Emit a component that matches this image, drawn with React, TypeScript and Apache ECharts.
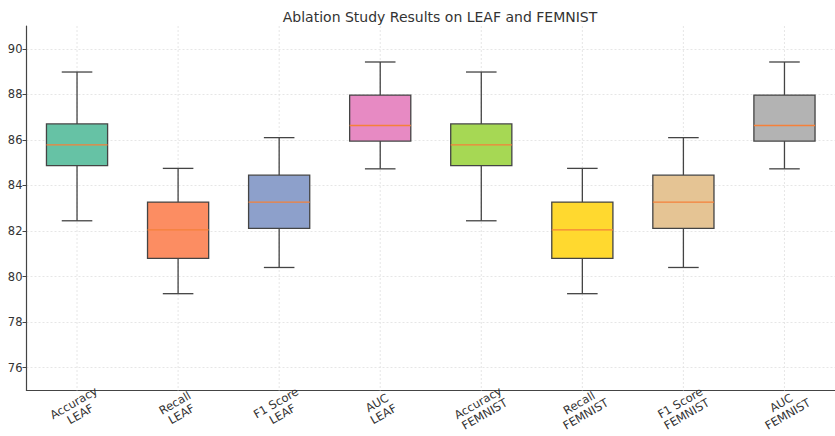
import React, { useEffect, useRef } from "react";
import * as echarts from "echarts";

const categories = [
  "Accuracy\nLEAF",
  "Recall\nLEAF",
  "F1 Score\nLEAF",
  "AUC\nLEAF",
  "Accuracy\nFEMNIST",
  "Recall\nFEMNIST",
  "F1 Score\nFEMNIST",
  "AUC\nFEMNIST",
];
const lowWhisker = [82.45, 79.25, 80.4, 84.73, 82.45, 79.25, 80.4, 84.73];
const q1 = [84.87, 80.8, 82.12, 85.95, 84.87, 80.8, 82.12, 85.95];
const median = [85.78, 82.05, 83.27, 86.63, 85.78, 82.05, 83.27, 86.63];
const q3 = [86.7, 83.27, 84.45, 87.97, 86.7, 83.27, 84.45, 87.97];
const highWhisker = [88.98, 84.75, 86.1, 89.42, 88.98, 84.75, 86.1, 89.42];
const boxColors = [
  "#66c2a5",
  "#fc8d62",
  "#8da0cb",
  "#e78ac3",
  "#a6d854",
  "#ffd92f",
  "#e5c494",
  "#b3b3b3",
];

export default function App() {
  const ref = useRef<HTMLDivElement>(null);
  useEffect(() => {
    if (!ref.current) return;
    document.body.style.margin = "0";
    const chart = echarts.init(ref.current, null, { renderer: "svg" });
    const data = categories.map((_, i) => [
      i,
      lowWhisker[i],
      q1[i],
      median[i],
      q3[i],
      highWhisker[i],
    ]);
    const edge = "#444444";
    chart.setOption({
      animation: false,
      backgroundColor: "#ffffff",
      textStyle: { fontFamily: "DejaVu Sans" },
      title: {
        text: "Ablation Study Results on LEAF and FEMNIST",
        left: 435,
        textAlign: "center",
        top: 5,
        textStyle: {
          fontSize: 14,
          fontWeight: "normal",
          color: "#333333",
          fontFamily: "DejaVu Sans",
        },
      },
      grid: { left: 26.5, top: 26, width: 820, height: 364.5 },
      xAxis: {
        type: "category",
        data: categories,
        axisLine: { lineStyle: { color: edge, width: 1.2 } },
        axisTick: {
          alignWithLabel: true,
          length: 4,
          lineStyle: { color: edge },
        },
        axisLabel: {
          rotate: 30,
          align: "center",
          verticalAlign: "middle",
          margin: 18,
          fontSize: 11.5,
          lineHeight: 13,
          color: "#333333",
          fontFamily: "DejaVu Sans",
          interval: 0,
        },
        splitLine: { show: false },
      },
      yAxis: {
        type: "value",
        min: 75,
        max: 91,
        splitNumber: 8,
        axisLine: { show: true, lineStyle: { color: edge, width: 1.2 } },
        axisTick: { show: true, length: 4, lineStyle: { color: edge } },
        axisLabel: {
          showMinLabel: false,
          showMaxLabel: false,
          margin: 4,
          fontSize: 11.5,
          color: "#333333",
          fontFamily: "DejaVu Sans",
        },
        splitLine: {
          show: true,
          showMinLine: false,
          showMaxLine: false,
          lineStyle: { color: "#e0e0e0", type: [2, 2], width: 0.8 },
        },
      },
      series: [
        {
          type: "custom",
          data,
          encode: { x: 0, y: [1, 2, 3, 4, 5] },
          clip: false,
          renderItem: (params: any, api: any) => {
            const idx = api.value(0);
            const pLow = api.coord([idx, api.value(1)]);
            const pQ1 = api.coord([idx, api.value(2)]);
            const pMed = api.coord([idx, api.value(3)]);
            const pQ3 = api.coord([idx, api.value(4)]);
            const pHigh = api.coord([idx, api.value(5)]);
            const band = api.size([1, 0])[0];
            const bw = band * 0.605;
            const cw = bw / 2;
            const x = pMed[0];
            const cs = params.coordSys;
            const lineStyle = { stroke: edge, lineWidth: 1.3, fill: null };
            return {
              type: "group",
              children: [
                {
                  type: "line",
                  shape: { x1: x, y1: cs.y, x2: x, y2: cs.y + cs.height },
                  style: { stroke: "#e0e0e0", lineWidth: 0.8, lineDash: [2, 2] },
                },
                {
                  type: "line",
                  shape: { x1: x, y1: pLow[1], x2: x, y2: pQ1[1] },
                  style: lineStyle,
                },
                {
                  type: "line",
                  shape: { x1: x, y1: pQ3[1], x2: x, y2: pHigh[1] },
                  style: lineStyle,
                },
                {
                  type: "line",
                  shape: { x1: x - cw / 2, y1: pLow[1], x2: x + cw / 2, y2: pLow[1] },
                  style: lineStyle,
                },
                {
                  type: "line",
                  shape: { x1: x - cw / 2, y1: pHigh[1], x2: x + cw / 2, y2: pHigh[1] },
                  style: lineStyle,
                },
                {
                  type: "rect",
                  shape: { x: x - bw / 2, y: pQ3[1], width: bw, height: pQ1[1] - pQ3[1] },
                  style: {
                    fill: boxColors[params.dataIndex],
                    stroke: edge,
                    lineWidth: 1.3,
                  },
                },
                {
                  type: "line",
                  shape: { x1: x - bw / 2, y1: pMed[1], x2: x + bw / 2, y2: pMed[1] },
                  style: { stroke: "#f5813a", lineWidth: 1.4 },
                },
              ],
            };
          },
        },
      ],
    });
    return () => chart.dispose();
  }, []);
  return <div ref={ref} style={{ width: 835, height: 436 }} />;
}
